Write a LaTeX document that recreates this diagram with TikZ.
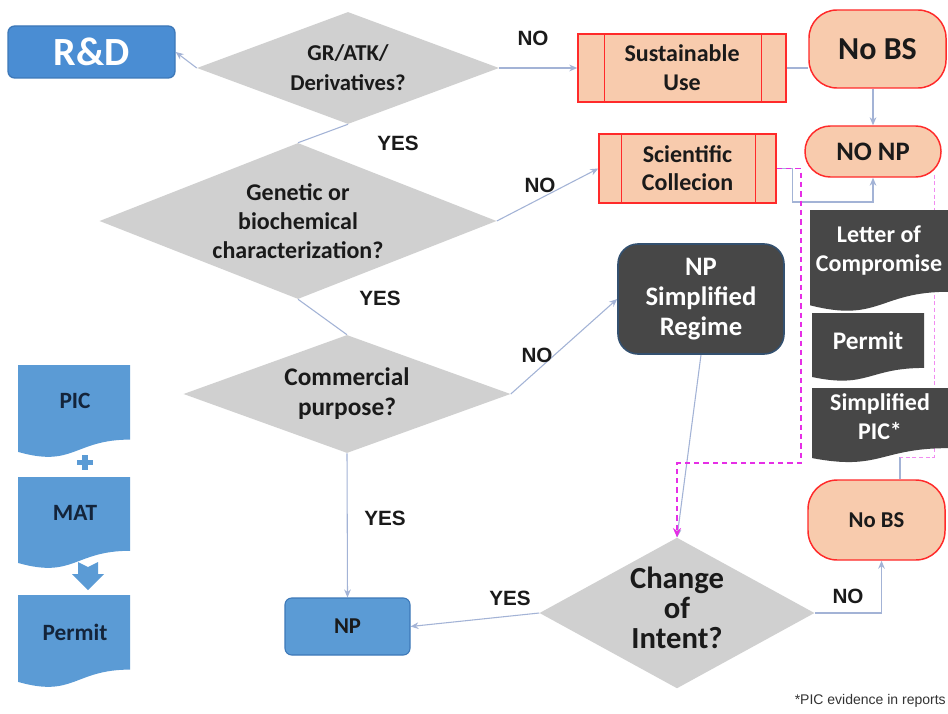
\documentclass[tikz,border=0pt]{standalone}
\usepackage{fontspec}
\setmainfont{Carlito}
\newfontfamily\arialf{Liberation Sans}
\usetikzlibrary{shapes.geometric,arrows.meta,calc,backgrounds}
\definecolor{boxblue}{HTML}{5B9BD5}
\definecolor{rdblue}{HTML}{4A8DD3}
\definecolor{rdborder}{HTML}{3D78B8}
\definecolor{dgrey}{HTML}{D0D0D0}
\definecolor{peach}{HTML}{F8CBAD}
\definecolor{redb}{HTML}{FF2A2A}
\definecolor{darkbox}{HTML}{474747}
\definecolor{npsborder}{HTML}{33506F}
\definecolor{connc}{HTML}{A3B3D6}
\definecolor{mag}{HTML}{E62EE6}
\definecolor{navy}{HTML}{14243A}
\definecolor{txt}{HTML}{1A1A1A}
\newcommand\docpath[5]{%
  \fill[#1] (#2,#3) -- (#4,#3) -- (#4,{#3+0.802*#5})
    .. controls ({(#2+#4)/2},{#3+0.802*#5}) and ({(#2+#4)/2},{#3+1.1075*#5}) ..
    (#2,{#3+0.934*#5}) -- cycle;}
\tikzset{
  decision/.style={diamond, fill=dgrey, inner sep=0pt, align=center, text=txt},
  predef/.style={rectangle, fill=peach, draw=redb, line width=1.1pt, inner sep=0pt, align=center, text=txt},
  termbox/.style={rectangle, rounded corners=#1, fill=peach, draw=redb, line width=1.1pt, inner sep=0pt, align=center, text=txt},
  doctext/.style={inner sep=0pt, align=center, text=white},
  lab/.style={inner sep=0pt, font=\arialf\bfseries\fontsize{15.5}{18}\selectfont, text=txt},
  link/.style={draw=connc, line width=0.8pt},
  arr/.style={-{Stealth[length=6pt,width=5pt]}},
  mdash/.style={draw=mag, line width=1.3pt, dash pattern=on 4pt off 3pt},
  pdash/.style={draw=mag!55, line width=0.7pt, dash pattern=on 3pt off 2pt},
}
\begin{document}
\begin{tikzpicture}[x=0.75pt,y=-0.75pt]
\useasboundingbox (0,0) rectangle (948,713);

% ---- R&D
\node[rectangle, rounded corners=5pt, fill=rdblue, draw=rdborder, line width=1pt,
      minimum width=125.25pt, minimum height=39pt, text=white,
      font=\bfseries\fontsize{30}{32}\selectfont] (rd) at (91.5,52) {R\&D};

% ---- decisions
\node[decision, aspect=2.7, minimum width=226.5pt, minimum height=84pt,
      font=\bfseries\fontsize{17}{22.5}\selectfont] (d1) at (348,68) {GR/ATK/\\Derivatives?};
\node[decision, aspect=2.54, minimum width=297.75pt, minimum height=117pt] (d2) at (298,221) {};
\node[inner sep=0pt, align=center, text=txt,
      font=\bfseries\fontsize{18}{21.5}\selectfont] (d2t) at (298,221) {Genetic or\\biochemical\\characterization?};
\node[decision, aspect=2.77, minimum width=245.25pt, minimum height=88.5pt,
      font=\bfseries\fontsize{19}{22.5}\selectfont] (d3) at (347,394) {Commercial\\purpose?};
\node[decision, aspect=1.83, minimum width=206.25pt, minimum height=113pt] (d4) at (677,613) {};
\node[inner sep=0pt, align=center, text=txt,
      font=\bfseries\fontsize{23}{22.5}\selectfont] (d4t) at (677,608) {Change\\of\\Intent?};

% ---- predefined process boxes
\node[predef, minimum width=156pt, minimum height=51pt,
      font=\bfseries\fontsize{18}{21.75}\selectfont] (su) at (682,68) {Sustainable\\Use};
\draw[redb, line width=1.1pt] ($(su.north west)+(27,0)$) -- ($(su.south west)+(27,0)$);
\draw[redb, line width=1.1pt] ($(su.north east)+(-25,0)$) -- ($(su.south east)+(-25,0)$);
\node[predef, minimum width=132.75pt, minimum height=51.75pt,
      font=\bfseries\fontsize{18}{21}\selectfont] (sc) at (687.5,168.5) {Scientific\\Collecion};
\draw[redb, line width=1.1pt] ($(sc.north west)+(23,0)$) -- ($(sc.south west)+(23,0)$);
\draw[redb, line width=1.1pt] ($(sc.north east)+(-21,0)$) -- ($(sc.south east)+(-21,0)$);

% ---- terminators
\node[termbox=21pt, minimum width=102.75pt, minimum height=58.5pt,
      font=\bfseries\fontsize{24}{28}\selectfont] (nobs1) at (877.5,49) {No BS};
\node[termbox=19pt, minimum width=102pt, minimum height=38.25pt,
      font=\bfseries\fontsize{20}{24}\selectfont] (nonp) at (873,151.5) {NO NP};
\node[termbox=22pt, minimum width=102.75pt, minimum height=60pt,
      font=\bfseries\fontsize{17}{20}\selectfont] (nobs2) at (876.5,520) {No BS};

% ---- dark boxes
\node[rectangle, rounded corners=15pt, fill=darkbox, draw=npsborder, line width=1.2pt,
      minimum width=124.5pt, minimum height=82.5pt, inner sep=0pt, align=center, text=white,
      font=\bfseries\fontsize{20}{22.5}\selectfont] (nps) at (701,299) {NP\\Simplified\\Regime};

\docpath{darkbox}{810}{210}{948}{102}
\node[doctext, font=\bfseries\fontsize{18}{21.75}\selectfont] (letter) at (879,251) {Letter of\\Compromise};
\docpath{darkbox}{812}{313}{924}{68.5}
\node[doctext, font=\bfseries\fontsize{19}{22}\selectfont] (permd) at (868,341) {Permit};
\docpath{darkbox}{812}{388}{948}{75}
\node[doctext, font=\bfseries\fontsize{18}{21.75}\selectfont] (spic) at (880,417) {Simplified\\PIC*};
\coordinate (spicb) at (900,457);

% ---- NP
\node[rectangle, rounded corners=5pt, fill=boxblue, draw=rdborder, line width=0.8pt,
      minimum width=93.75pt, minimum height=42.75pt, text=txt,
      font=\bfseries\fontsize{17}{20}\selectfont] (np) at (347.5,626.5) {NP};

% ---- left documents
\docpath{boxblue}{18}{365}{130}{93}
\node[doctext, text=navy, font=\bfseries\fontsize{17.5}{20}\selectfont] (pic) at (75,401) {PIC};
\docpath{boxblue}{18}{477}{130}{92}
\node[doctext, text=navy, font=\bfseries\fontsize{17.5}{20}\selectfont] (mat) at (75,513) {MAT};
\docpath{boxblue}{18}{595}{130}{93}
\node[doctext, text=navy, font=\bfseries\fontsize{17.5}{20}\selectfont] (perml) at (75,632) {Permit};
% plus sign
\fill[boxblue] (82,455) rectangle (87.5,470);
\fill[boxblue] (77,459.8) rectangle (92.5,465.2);
% down arrow
\fill[boxblue] (78,562) -- (88,567) -- (98,562) -- (98,574) -- (104,574) -- (88,590)
  -- (72,574) -- (78,574) -- cycle;

% ---- labels
\node[lab] (l1) at (533,38) {NO};
\node[lab] (l2) at (398,143) {YES};
\node[lab] (l3) at (540,185) {NO};
\node[lab] (l4) at (380,298) {YES};
\node[lab] (l5) at (537,355) {NO};
\node[lab] (l6) at (385,518) {YES};
\node[lab] (l7) at (510,598) {YES};
\node[lab] (l8) at (848,596) {NO};
\node[anchor=east, inner sep=0pt, font=\arialf\fontsize{10.5}{12}\selectfont, text=black!80]
  (fn) at (946,701) {*PIC evidence in reports};

% ---- connectors
\begin{pgfonlayer}{background}
\fill[white] (0,0) rectangle (948,713);
\draw[link, arr] (d1.west) -- (rd.east);
\draw[link, arr] (d1.east) -- (su.west);
\draw[link] (su.east) -- (su.east -| nobs1.west);
\draw[link, arr] (nonp.north |- nobs1.south) -- (nonp.north);
\draw[link] (d1.south) -- (d2.north);
\draw[link, arr] (d2.east) -- (sc.west);
\draw[link, arr] (sc.east) -- ++(16,0) -- ++(0,33.5) -| (nonp.south);
\draw[link] (d2.south) -- (d3.north);
\draw[link, arr] (d3.east) -- (nps.west);
\draw[link, arr] (d3.south) -- (np.north);
\draw[link, arr] (nps.south) -- (d4.north);
\draw[link, arr] (d4.west) -- (np.east);
\draw[link, arr] (d4.east) -| ($(nobs2.south)+(5,0)$);
\draw[link] (spicb) -- (spicb |- nobs2.north);
\draw[mdash, -{Stealth[length=7pt,width=6pt]}] (sc.east) -- ++(24,0) -- ++(0,294.5) -| (d4.north);
\draw[pdash] ($(nonp.south)+(61,-3)$) -- (934,457) -- (spicb);
\end{pgfonlayer}
\end{tikzpicture}
\end{document}
